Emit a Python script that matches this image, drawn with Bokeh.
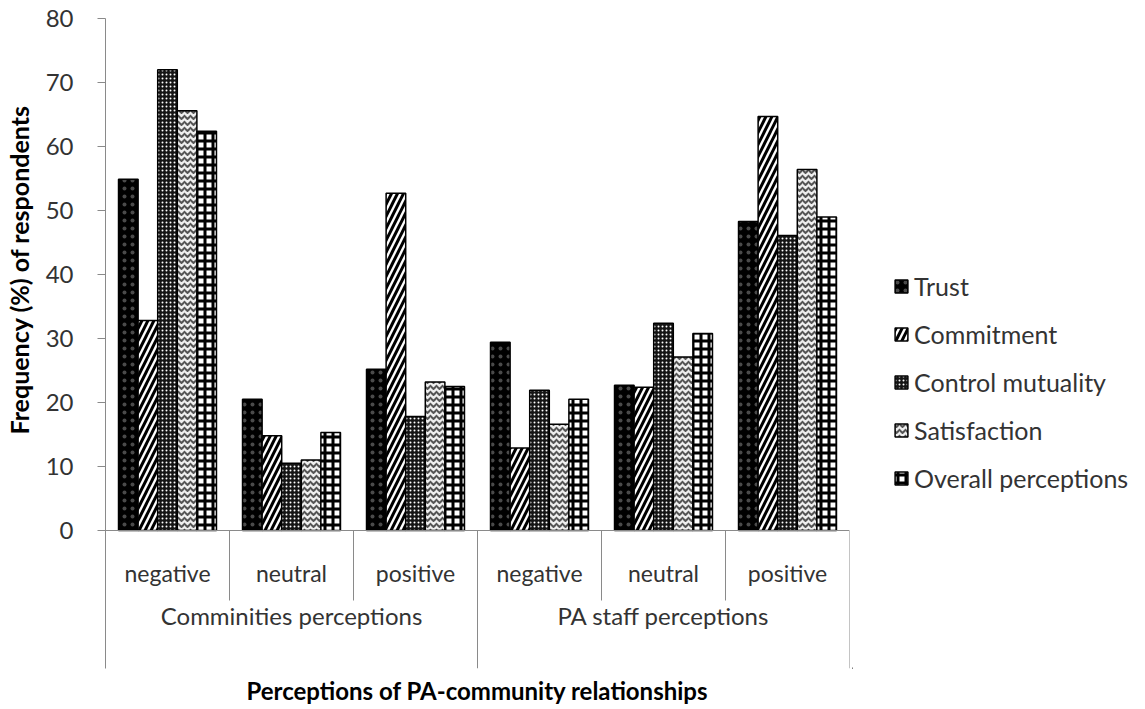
import math
from bokeh.plotting import figure
from bokeh.layouts import row
from bokeh.models import (FactorRange, FixedTicker, Span, ColumnDataSource, Legend,
                          LegendItem, Title, Range1d)
from bokeh.transform import dodge
from bokeh.embed import file_html
from bokeh.resources import INLINE
from bokeh.core.properties import value

# ---------------- data ----------------
groups = ["Comminities perceptions", "PA staff perceptions"]
categories = ["negative", "neutral", "positive"]
series = ["Trust", "Commitment", "Control mutuality", "Satisfaction", "Overall perceptions"]
trust = [54.9, 20.5, 25.2, 29.4, 22.7, 48.3]
commitment = [32.8, 14.8, 52.7, 12.9, 22.4, 64.7]
control_mutuality = [72.0, 10.5, 17.8, 21.9, 32.4, 46.1]
satisfaction = [65.6, 11.0, 23.2, 16.6, 27.1, 56.4]
overall = [62.4, 15.3, 22.5, 20.5, 30.8, 49.0]
y_ticks = [0, 10, 20, 30, 40, 50, 60, 70, 80]
y_title = "Frequency (%) of respondents"
x_title = "Perceptions of PA-community relationships"

# ---------------- layout constants ----------------
FONT = "Lato"
TXT = "#333333"
AXIS = "#8a8a8a"
W, H = 1145, 709
LEFT, RIGHT, TOP, BOTTOM = 105, 849, 18, 668
TITLE_W = 40                    # strip holding the rotated y title
MAIN_W = RIGHT + 3 - TITLE_W
ZERO_PX = 530
PX_PER_UNIT = (ZERO_PX - TOP) / 80.0
y_min = -(BOTTOM - ZERO_PX) / PX_PER_UNIT
sub_label_y = -(572 - ZERO_PX) / PX_PER_UNIT
grp_label_y = -(615 - ZERO_PX) / PX_PER_UNIT
short_sep_y = -(600 - ZERO_PX) / PX_PER_UNIT

# ---------------- y-title strip ----------------
t = figure(width=TITLE_W, height=H, x_range=Range1d(0, TITLE_W), y_range=Range1d(0, H),
           output_backend="svg", toolbar_location=None, x_axis_location=None,
           y_axis_location=None, min_border=0, outline_line_color=None,
           background_fill_color="white", border_fill_color="white")
t.grid.visible = False
t.text(x=[18], y=[H - (TOP + ZERO_PX) / 2], text=[y_title], angle=math.pi / 2,
       text_font=value(FONT), text_font_size="25px", text_font_style="bold",
       text_color="black", text_align="center", text_baseline="middle")

# ---------------- main chart ----------------
factors = [(g, c) for g in groups for c in categories]
source = ColumnDataSource(dict(
    x=factors,
    trust=trust, commitment=commitment, control=control_mutuality,
    satisfaction=satisfaction, overall=overall,
))

x_range = FactorRange(*factors, range_padding=0, group_padding=0,
                      factor_padding=0, subgroup_padding=0)
p = figure(width=MAIN_W, height=H, x_range=x_range, y_range=Range1d(y_min, 80),
           output_backend="svg", toolbar_location=None, x_axis_location=None,
           min_border_left=LEFT - TITLE_W, min_border_right=3,
           min_border_top=TOP, min_border_bottom=H - BOTTOM,
           outline_line_color=None, background_fill_color="white",
           border_fill_color="white")
p.grid.visible = False

ya = p.yaxis[0]
ya.ticker = FixedTicker(ticks=y_ticks)
ya.axis_line_color = AXIS
ya.major_tick_line_color = AXIS
ya.major_tick_out = 8
ya.major_tick_in = 0
ya.minor_tick_line_color = None
ya.major_label_standoff = 24
ya.major_label_text_font = FONT
ya.major_label_text_font_size = "24px"
ya.major_label_text_color = TXT

bw = 0.158
styles = [
    dict(field="trust", fill_color="black", hatch_pattern="dot", hatch_color="#4a4a4a",
         hatch_scale=8, hatch_weight=0.5),
    dict(field="commitment", fill_color="white", hatch_pattern="right_diagonal_line",
         hatch_color="black", hatch_scale=12, hatch_weight=3),
    dict(field="control", fill_color="#151515", hatch_pattern="dot", hatch_color="white",
         hatch_scale=4, hatch_weight=1),
    dict(field="satisfaction", fill_color="#eeeeee", hatch_pattern="horizontal_wave",
         hatch_color="#555555", hatch_scale=6, hatch_weight=2),
    dict(field="overall", fill_color="white", hatch_pattern="cross",
         hatch_color="black", hatch_scale=8, hatch_weight=3),
]


def add_bars(fig, st, src, x):
    return fig.vbar(x=x, top=st["field"], width=bw, bottom=0, source=src,
                    fill_color=st["fill_color"], hatch_pattern=st["hatch_pattern"],
                    hatch_color=st["hatch_color"], hatch_scale=st["hatch_scale"],
                    hatch_weight=st["hatch_weight"],
                    line_color="black", line_width=1.5)


for i, st in enumerate(styles):
    add_bars(p, st, source, dodge("x", (i - 2) * bw, range=p.x_range))

# category axis drawn in the lower part of the frame
p.add_layout(Span(location=0, dimension="width", line_color=AXIS, line_width=1))

inner = [(g, c) for g in groups for c in categories[1:]]
p.segment(x0=dodge("x", -0.5, range=p.x_range), x1=dodge("x", -0.5, range=p.x_range),
          y0=0, y1=short_sep_y, source=ColumnDataSource(dict(x=inner)),
          line_color=AXIS, line_width=1)
p.segment(x0=dodge("x", -0.5, range=p.x_range), x1=dodge("x", -0.5, range=p.x_range),
          y0=0, y1=y_min, source=ColumnDataSource(dict(x=[factors[3]])),
          line_color=AXIS, line_width=1)
p.segment(x0=dodge("x", 0.5, range=p.x_range), x1=dodge("x", 0.5, range=p.x_range),
          y0=0, y1=y_min, source=ColumnDataSource(dict(x=[factors[5]])),
          line_color=AXIS, line_width=1)

p.text(x=factors, y=[sub_label_y] * len(factors), text=[c for g, c in factors],
       text_font=value(FONT), text_font_size="23px", text_color=TXT,
       text_align="center", text_baseline="middle")
p.text(x=groups, y=[grp_label_y] * len(groups), text=groups,
       text_font=value(FONT), text_font_size="24px", text_color=TXT,
       text_align="center", text_baseline="middle")

p.add_layout(Title(text=x_title, align="center", text_font=FONT, text_font_size="24px",
                   text_font_style="bold", text_color="black"), "below")

# ---------------- legend panel ----------------
LW = W - TITLE_W - MAIN_W
q = figure(width=LW, height=H, x_range=Range1d(0, 1), y_range=Range1d(0, 1),
           output_backend="svg", toolbar_location=None, x_axis_location=None,
           y_axis_location=None, min_border=0, outline_line_color=None,
           background_fill_color="white", border_fill_color="white")
q.grid.visible = False
# legend swatches: one zero-height bar per series, outside the visible range
swatch = ColumnDataSource(dict(x=[-5], trust=[0], commitment=[0], control=[0],
                               satisfaction=[0], overall=[0]))
leg_renderers = [add_bars(q, st, swatch, "x") for st in styles]
legend = Legend(items=[LegendItem(label=s, renderers=[r], index=0)
                       for s, r in zip(series, leg_renderers)],
                location=(893 - (TITLE_W + MAIN_W), 175), glyph_width=16, glyph_height=16,
                label_height=30, label_standoff=5, spacing=18, padding=0, margin=0,
                label_text_font=FONT, label_text_font_size="25px",
                label_text_color=TXT, border_line_color=None,
                background_fill_alpha=0)
q.add_layout(legend)

open("out.html", "w").write(file_html(row(t, p, q), INLINE))
